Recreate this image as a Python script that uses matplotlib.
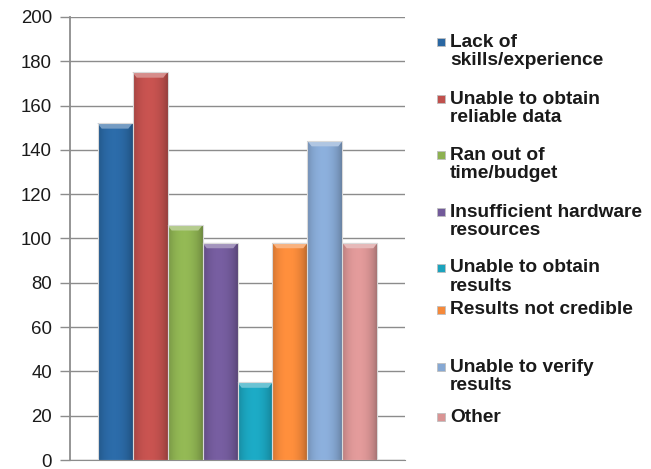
import numpy as np
import matplotlib.pyplot as plt
from matplotlib.colors import to_rgb
from matplotlib.patches import Polygon, Rectangle

plt.rcParams["font.family"] = ["Liberation Sans", "DejaVu Sans"]

# data
categories = [
    "Lack of\nskills/experience",
    "Unable to obtain\nreliable data",
    "Ran out of\ntime/budget",
    "Insufficient hardware\nresources",
    "Unable to obtain\nresults",
    "Results not credible",
    "Unable to verify\nresults",
    "Other",
]
counts = [152, 175, 106, 98, 35, 98, 144, 98]
colors = ["#2a67a2", "#c0504d", "#8db151", "#725a9a", "#1ba3bd", "#f5893a", "#86a8d3", "#d99494"]
y_ticks = list(range(0, 201, 20))

# legend rows in pixels from the top (layout only)
legend_rows_px = [42, 99, 155, 212, 268, 310, 367, 417]

W, H = 651, 469
fig = plt.figure(figsize=(W / 100, H / 100), dpi=100)
ax = fig.add_axes([70 / W, 1 - 460 / H, 335 / W, (460 - 17) / H])

xs = np.arange(len(counts))
bars = ax.bar(xs, counts, width=1.0, color="none", edgecolor="#d9d9d9", linewidth=0.8, zorder=4)

# horizontal shading profile, dark edges and bright left-centre, like the Excel bevel style
u = np.linspace(0, 1, 80)
profile = 0.80 + 0.28 * np.sin(np.pi * u) ** 0.6 - 0.06 * u
bevel_h = 2.4
for bar, c in zip(bars, colors):
    rgb = np.array(to_rgb(c))
    img = np.clip(rgb[None, None, :] * profile[None, :, None], 0, 1)
    x0, w, h = bar.get_x(), bar.get_width(), bar.get_height()
    im = ax.imshow(img, extent=[x0, x0 + w, 0, h], aspect="auto", zorder=3, interpolation="bilinear")
    im.set_clip_path(bar)
    light = np.clip(rgb + (1 - rgb) * 0.35, 0, 1)
    inset = 0.12 * w
    ax.add_patch(Polygon([[x0, h], [x0 + w, h], [x0 + w - inset, h - bevel_h], [x0 + inset, h - bevel_h]],
                         closed=True, facecolor=light, edgecolor="none", zorder=3.5))

pad = 0.786
ax.set_xlim(-0.5 - pad, len(counts) - 0.5 + pad)
ax.set_ylim(0, 200)
ax.set_yticks(y_ticks)
ax.set_xticks([])
ax.yaxis.grid(True, color="#8c8c8c", linewidth=1.0)
ax.set_axisbelow(True)
for side in ["top", "right"]:
    ax.spines[side].set_visible(False)
ax.spines["left"].set_color("#8c8c8c")
ax.spines["left"].set_linewidth(1.3)
ax.spines["bottom"].set_color("#8c8c8c")
ax.tick_params(axis="y", length=7, width=1, color="#8c8c8c", labelsize=13.4, labelcolor="#1a1a1a", pad=6)

# legend: square swatch aligned with the first text line
for label, c, ypx in zip(categories, colors, legend_rows_px):
    yf = 1 - ypx / H
    fig.patches.append(Rectangle((437 / W, yf - 4 / H), 8 / W, 8 / H, transform=fig.transFigure,
                                 facecolor=c, edgecolor="#bfbfbf", linewidth=0.6, figure=fig))
    fig.text(450 / W, yf + 8.5 / H, label, fontsize=13.8, fontweight="bold", color="#1a1a1a",
             va="top", ha="left", linespacing=1.12)

fig.savefig("out.png", dpi=100)
